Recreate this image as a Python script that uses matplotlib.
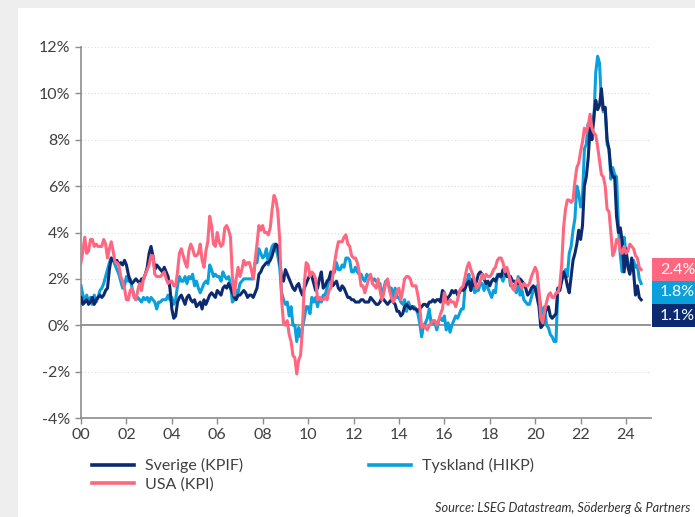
import numpy as np
import matplotlib.pyplot as plt
from matplotlib.patches import Rectangle

# monthly YoY inflation, Jan 2000 - Sep 2024 (%)
usa_kpi = [
    2.7, 3.2, 3.8, 3.1, 3.2, 3.7, 3.7, 3.4, 3.5, 3.4, 3.4, 3.4,
    3.7, 3.5, 2.9, 3.3, 3.6, 3.2, 2.7, 2.7, 2.6, 2.1, 1.9, 1.6,
    1.1, 1.1, 1.5, 1.6, 1.2, 1.1, 1.5, 1.8, 1.5, 2.0, 2.2, 2.4,
    2.6, 3.0, 3.0, 2.2, 2.1, 2.1, 2.1, 2.2, 2.3, 2.0, 1.8, 1.9,
    1.9, 1.7, 1.7, 2.3, 3.1, 3.3, 3.0, 2.7, 2.5, 3.2, 3.5, 3.3,
    3.0, 3.0, 3.1, 3.5, 2.8, 2.5, 3.2, 3.6, 4.7, 4.3, 3.5, 3.4,
    4.0, 3.6, 3.4, 3.5, 4.2, 4.3, 4.1, 3.8, 2.1, 1.3, 2.0, 2.5,
    2.1, 2.4, 2.8, 2.6, 2.7, 2.7, 2.4, 2.0, 2.8, 3.5, 4.3, 4.1,
    4.3, 4.0, 4.0, 3.9, 4.2, 5.0, 5.6, 5.4, 4.9, 3.7, 1.1, 0.1,
    0.0, 0.2, -0.4, -0.7, -1.3, -1.4, -2.1, -1.5, -1.3, -0.2, 1.8, 2.7,
    2.6, 2.1, 2.3, 2.2, 2.0, 1.1, 1.2, 1.1, 1.1, 1.2, 1.1, 1.5,
    1.6, 2.1, 2.7, 3.2, 3.6, 3.6, 3.6, 3.8, 3.9, 3.5, 3.4, 3.0,
    2.9, 2.9, 2.7, 2.3, 1.7, 1.7, 1.4, 1.7, 2.0, 2.2, 1.8, 1.7,
    1.6, 2.0, 1.5, 1.1, 1.4, 1.8, 2.0, 1.5, 1.2, 1.0, 1.2, 1.5,
    1.6, 1.1, 1.5, 2.0, 2.1, 2.1, 2.0, 1.7, 1.7, 1.7, 1.3, 0.8,
    -0.1, 0.0, -0.1, -0.2, 0.0, 0.1, 0.2, 0.2, 0.0, 0.2, 0.5, 0.7,
    1.4, 1.0, 0.9, 1.1, 1.0, 1.0, 0.8, 1.1, 1.5, 1.6, 1.7, 2.1,
    2.5, 2.7, 2.4, 2.2, 1.9, 1.6, 1.7, 1.9, 2.2, 2.0, 2.2, 2.1,
    2.1, 2.2, 2.4, 2.5, 2.8, 2.9, 2.9, 2.7, 2.3, 2.5, 2.2, 1.9,
    1.6, 1.5, 1.9, 2.0, 1.8, 1.6, 1.8, 1.7, 1.7, 1.8, 2.1, 2.3,
    2.5, 2.3, 1.5, 0.3, 0.1, 0.6, 1.0, 1.3, 1.4, 1.2, 1.2, 1.4,
    1.4, 1.7, 2.6, 4.2, 5.0, 5.4, 5.4, 5.3, 5.4, 6.2, 6.8, 7.0,
    7.5, 7.9, 8.5, 8.3, 8.6, 9.1, 8.5, 8.3, 8.2, 7.7, 7.1, 6.5,
    6.4, 6.0, 5.0, 4.9, 4.0, 3.0, 3.2, 3.7, 3.7, 3.2, 3.1, 3.4,
    3.1, 3.2, 3.5, 3.4, 3.3, 3.0, 2.9, 2.5, 2.4,
]

tyskland_hikp = [
    1.7, 1.3, 1.0, 1.3, 1.0, 1.2, 0.9, 1.3, 1.0, 1.2, 1.5, 1.6,
    1.8, 2.1, 2.4, 2.7, 2.9, 2.8, 2.6, 2.4, 2.2, 1.9, 1.6, 1.7,
    2.1, 1.9, 2.0, 1.6, 1.3, 1.1, 1.2, 1.1, 1.0, 1.2, 1.1, 1.2,
    1.0, 1.2, 1.1, 1.0, 0.7, 1.0, 1.0, 1.1, 1.1, 1.1, 1.3, 1.1,
    1.2, 0.9, 1.1, 1.7, 2.1, 1.9, 1.9, 2.1, 1.8, 2.1, 2.0, 2.2,
    1.7, 1.9, 1.6, 1.4, 1.6, 1.8, 1.9, 1.8, 2.6, 2.4, 2.1, 2.2,
    2.1, 2.1, 1.9, 2.3, 2.1, 2.0, 2.1, 1.8, 1.0, 1.1, 1.5, 1.4,
    1.8, 1.9, 2.0, 2.0, 2.0, 2.0, 2.0, 2.0, 2.7, 2.7, 3.3, 3.1,
    2.9, 3.0, 3.3, 2.6, 3.1, 3.4, 3.5, 3.3, 3.0, 2.5, 1.4, 1.1,
    0.9, 1.0, 0.4, 0.8, 0.0, 0.0, -0.7, -0.1, -0.5, -0.1, 0.3, 0.8,
    0.8, 0.5, 1.2, 1.0, 1.2, 0.8, 1.2, 1.0, 1.3, 1.3, 1.6, 1.9,
    2.0, 2.2, 2.3, 2.7, 2.4, 2.4, 2.6, 2.5, 2.9, 2.9, 2.8, 2.3,
    2.3, 2.5, 2.3, 2.2, 2.2, 2.0, 1.9, 2.2, 2.1, 2.1, 1.9, 2.0,
    1.9, 1.8, 1.8, 1.1, 1.6, 1.9, 1.9, 1.6, 1.6, 1.2, 1.6, 1.2,
    1.2, 1.0, 0.9, 1.1, 0.6, 1.0, 0.8, 0.8, 0.8, 0.7, 0.5, 0.1,
    -0.5, 0.0, 0.1, 0.3, 0.7, 0.1, 0.1, 0.1, -0.2, 0.2, 0.3, 0.2,
    0.4, -0.2, 0.1, -0.3, 0.0, 0.2, 0.4, 0.3, 0.5, 0.7, 0.7, 1.7,
    1.9, 2.2, 1.5, 2.0, 1.4, 1.5, 1.5, 1.8, 1.8, 1.5, 1.8, 1.6,
    1.4, 1.2, 1.5, 1.4, 2.2, 2.1, 2.1, 1.9, 2.2, 2.4, 2.2, 1.7,
    1.7, 1.7, 1.4, 2.1, 1.3, 1.5, 1.1, 1.0, 0.9, 0.9, 1.2, 1.5,
    1.6, 1.7, 1.3, 0.8, 0.5, 0.8, 0.0, -0.1, -0.4, -0.5, -0.7, -0.7,
    1.6, 1.6, 2.0, 2.1, 2.4, 2.1, 3.1, 3.4, 4.1, 4.6, 6.0, 5.7,
    5.1, 5.5, 7.6, 7.8, 8.7, 8.2, 8.5, 8.8, 10.9, 11.6, 11.3, 9.6,
    9.2, 9.3, 7.8, 7.6, 6.3, 6.8, 6.5, 6.4, 4.3, 3.0, 2.3, 3.8,
    3.1, 2.7, 2.3, 2.4, 2.8, 2.5, 2.6, 2.0, 1.8,
]

sverige_kpif = [
    1.2, 0.9, 1.0, 1.1, 0.9, 1.0, 1.2, 0.9, 1.1, 1.2, 1.3, 1.2,
    1.3, 1.5, 1.6, 2.4, 2.9, 2.8, 2.7, 2.8, 2.6, 2.7, 2.6, 2.8,
    2.6, 2.2, 1.9, 1.8, 1.9, 2.0, 1.9, 1.8, 2.0, 2.0, 2.2, 2.5,
    3.1, 3.4, 3.0, 2.4, 2.6, 2.5, 2.4, 2.3, 2.5, 2.3, 2.1, 1.6,
    0.7, 0.3, 0.4, 1.0, 1.2, 1.3, 1.1, 0.9, 1.2, 1.3, 1.1, 1.0,
    1.1, 0.8, 0.9, 1.0, 0.7, 1.1, 0.9, 1.1, 1.3, 1.4, 1.3, 1.2,
    1.5, 1.4, 1.3, 1.6, 1.7, 1.6, 1.8, 1.6, 1.4, 1.2, 1.1, 1.3,
    1.3, 1.4, 1.5, 1.4, 1.2, 1.3, 1.3, 1.2, 1.4, 1.6, 2.2, 2.3,
    2.5, 2.6, 2.7, 2.7, 2.8, 3.0, 3.3, 3.5, 3.4, 2.8, 2.0, 1.9,
    2.4, 2.2, 2.0, 1.8, 1.6, 1.5, 1.7, 1.8, 1.5, 1.3, 1.6, 1.8,
    2.0, 2.2, 2.1, 1.8, 1.5, 1.6, 2.0, 2.3, 1.6, 1.7, 1.9, 2.0,
    2.3, 1.7, 1.8, 1.9, 1.6, 1.5, 1.7, 1.6, 1.4, 1.2, 1.2, 1.1,
    1.1, 1.0, 1.0, 1.0, 1.1, 1.1, 1.0, 1.0, 1.0, 1.2, 1.1, 1.0,
    0.9, 0.9, 1.0, 1.2, 1.1, 1.0, 0.9, 1.0, 1.1, 1.0, 0.9, 0.6,
    0.6, 0.4, 0.5, 0.8, 0.9, 0.8, 0.7, 0.8, 0.7, 0.7, 0.6, 0.7,
    0.8, 0.9, 0.9, 0.8, 1.0, 1.0, 1.1, 1.0, 1.1, 1.1, 1.0, 1.5,
    1.4, 1.0, 1.2, 1.3, 1.5, 1.4, 1.5, 1.3, 1.4, 1.6, 1.5, 1.6,
    1.8, 1.9, 1.5, 2.0, 1.7, 1.9, 2.2, 2.3, 2.2, 2.0, 1.8, 1.9,
    1.7, 1.9, 2.0, 1.9, 2.1, 2.2, 2.1, 2.4, 2.3, 2.1, 2.1, 2.1,
    1.9, 1.9, 1.8, 1.8, 2.0, 1.9, 1.8, 1.6, 1.3, 1.4, 1.6, 1.7,
    1.6, 1.2, 0.8, -0.1, 0.0, 0.5, 0.7, 0.8, 0.4, 0.3, 0.4, 0.5,
    1.6, 1.5, 1.9, 2.3, 2.1, 1.7, 1.4, 2.1, 2.8, 3.1, 3.5, 4.1,
    3.7, 4.3, 6.0, 6.4, 7.2, 8.5, 8.0, 9.0, 9.7, 9.3, 9.5, 10.2,
    9.3, 9.4, 8.0, 7.6, 6.7, 6.4, 6.4, 4.7, 4.0, 4.2, 3.6, 2.3,
    3.3, 2.5, 2.2, 2.9, 2.3, 1.3, 1.7, 1.2, 1.1,
]

tick_years = list(range(2000, 2025, 2))
y_ticks = list(range(-4, 13, 2))

navy = '#0b2a6f'
blue = '#0aa0dc'
pink = '#ff6680'
grey_txt = '#404040'

plt.rcParams['font.family'] = ['Lato', 'DejaVu Sans']

t = 2000 + np.arange(len(usa_kpi)) / 12

fig = plt.figure(figsize=(6.95, 5.17), dpi=100)
fig.patch.set_facecolor('#efeeee')
card = Rectangle((18 / 695, 0), 1, 509 / 517, transform=fig.transFigure,
                 facecolor='white', edgecolor='none', zorder=-10)
fig.add_artist(card)

ax = fig.add_axes([81 / 695, 99 / 517, 570 / 695, 371 / 517])
ax.set_facecolor('none')

ax.plot(t, tyskland_hikp, color=blue, lw=2.2, label='Tyskland (HIKP)', zorder=3)
ax.plot(t, sverige_kpif, color=navy, lw=2.2, label='Sverige (KPIF)', zorder=4)
ax.plot(t, usa_kpi, color=pink, lw=2.2, label='USA (KPI)', zorder=5)

ax.set_xlim(2000, 2025.1)
ax.set_ylim(-4, 12)
ax.set_xticks(tick_years)
ax.set_xticklabels([f"{y % 100:02d}" for y in tick_years])
ax.set_yticks(y_ticks)
ax.set_yticklabels([f"{v}%" for v in y_ticks])
for v in y_ticks:
    if v not in (0, -4):
        ax.axhline(v, color='#dcdcdc', lw=0.8, ls=(0, (1, 2)), zorder=1)
ax.axhline(0, color='#8c8c8c', lw=1.3, zorder=2)

for s in ['top', 'right']:
    ax.spines[s].set_visible(False)
for s in ['left', 'bottom']:
    ax.spines[s].set_color('#8c8c8c')
    ax.spines[s].set_linewidth(1.2)
ax.tick_params(axis='both', colors='#8c8c8c', labelcolor=grey_txt, labelsize=11.5,
               length=4, width=1.0)
ax.tick_params(axis='y', pad=4)
ax.tick_params(axis='x', pad=3)

# end labels at the right edge
boxes = [('2.4%', pink, 258), ('1.8%', blue, 281), ('1.1%', navy, 304)]
for txt, col, ytop in boxes:
    y0 = (517 - ytop - 23) / 517
    fig.add_artist(Rectangle((652 / 695, y0), 60 / 695, 23 / 517, transform=fig.transFigure,
                             facecolor=col, edgecolor='none', zorder=5))
    fig.text(660 / 695, y0 + 11.5 / 517, txt, color='white', fontsize=11.5,
             va='center', ha='left', zorder=6)

h, l = ax.get_legend_handles_labels()
order = [1, 2, 0]
leg = fig.legend([h[i] for i in order], [l[i] for i in order], ncol=2,
                 loc='upper left', bbox_to_anchor=(78 / 695, (517 - 444) / 517),
                 frameon=False, fontsize=11.5, handlelength=2.6, handletextpad=0.7,
                 columnspacing=7.9, labelspacing=0.25)
for tx in leg.get_texts():
    tx.set_color(grey_txt)
for ln in leg.get_lines():
    ln.set_linewidth(2.6)

fig.text(690 / 695, (517 - 508) / 517, 'Source: LSEG Datastream, Söderberg & Partners',
         fontsize=9.2, style='italic', color='#333333', va='center', ha='right')

fig.savefig('out.png', dpi=100, facecolor=fig.get_facecolor())
